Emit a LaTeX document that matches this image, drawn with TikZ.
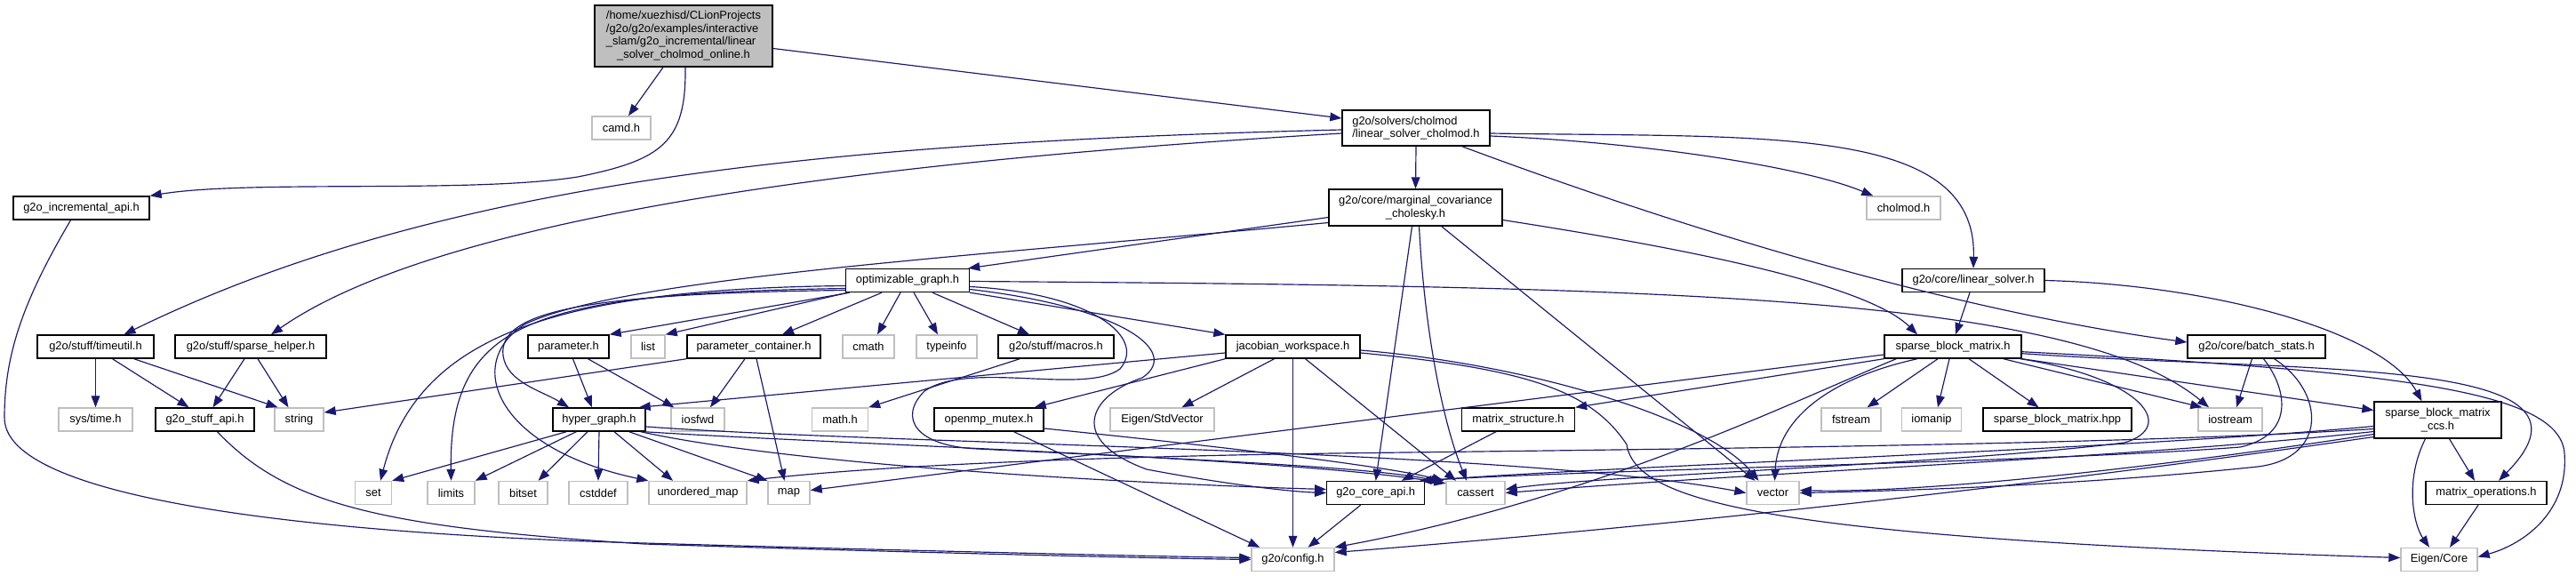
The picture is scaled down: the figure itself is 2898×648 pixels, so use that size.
\documentclass[tikz,border=0pt]{standalone}
\usepackage{fontspec}
\setmainfont{Liberation Sans}
\usetikzlibrary{arrows.meta,calc}
\definecolor{edgeblue}{HTML}{191970}
\definecolor{leafgray}{HTML}{BFBFBF}

\begin{document}
\begin{tikzpicture}[x=0.3mm,y=-0.3mm,font=\fontsize{11pt}{12.4pt}\selectfont,
  box/.style={rectangle,inner sep=0pt,minimum height=7.8mm,line width=1.2pt},
  doc/.style={box,draw=black},
  ext/.style={box,draw=leafgray},
  bw/.style={minimum width=#1*0.3mm},
  dep/.style={edgeblue,line width=1pt,-{Triangle[length=3.9mm,width=2.9mm]}}]
  \useasboundingbox (0,0) rectangle (2898,648);

  % headers of the project
  \node[doc,fill=leafgray,bw=200,minimum height=20.7mm] (main) at (769,40.5)
    {\begin{tabular}{@{}l@{}}/home/xuezhisd/CLionProjects\\/g2o/g2o/examples/interactive\\
     \_slam/g2o\_incremental/linear\\\multicolumn{1}{@{}c@{}}{\_solver\_cholmod\_online.h}\end{tabular}};
  \node[ext,bw=66] (camd) at (699,144) {camd.h};
  \node[doc,bw=166,minimum height=12mm,align=left] (lsc) at (1593,144)
    {g2o/solvers/cholmod\\/linear\_solver\_cholmod.h};
  \node[doc,bw=153] (incapi) at (91.5,234) {g2o\_incremental\_api.h};
  \node[doc,bw=195,minimum height=12.3mm,align=center] (mcc) at (1592.5,233.5)
    {g2o/core/marginal\_covariance\\\_cholesky.h};
  \node[ext,bw=83] (cholmod) at (2141.5,234) {cholmod.h};
  \node[doc,bw=139] (og) at (1021,315.5) {optimizable\_graph.h};
  \node[doc,bw=160] (ls) at (2220,315.5) {g2o/core/linear\_solver.h};
  \node[doc,bw=131] (timeutil) at (107.5,390) {g2o/stuff/timeutil.h};
  \node[doc,bw=170] (sphelp) at (282,390) {g2o/stuff/sparse\_helper.h};
  \node[doc,bw=91] (param) at (639.5,390) {parameter.h};
  \node[doc,bw=150] (pcont) at (848,390) {parameter\_container.h};
  \node[doc,bw=130] (macros) at (1188,390) {g2o/stuff/macros.h};
  \node[doc,bw=151] (jws) at (1454.5,390) {jacobian\_workspace.h};
  \node[doc,bw=154] (sbm) at (2197,390) {sparse\_block\_matrix.h};
  \node[doc,bw=155] (bstats) at (2538.5,390) {g2o/core/batch\_stats.h};
  \node[ext,bw=83] (systime) at (107.5,472) {sys/time.h};
  \node[doc,bw=111] (stuffapi) at (230.5,472) {g2o\_stuff\_api.h};
  \node[doc,bw=104] (hg) at (674,472) {hyper\_graph.h};
  \node[ext,bw=63] (mathh) at (945,472) {math.h};
  \node[doc,bw=123] (omp) at (1112.5,472) {openmp\_mutex.h};
  \node[ext,bw=117] (estd) at (1307.5,472) {Eigen/StdVector};
  \node[doc,bw=127] (mstruct) at (1708,472) {matrix\_structure.h};
  \node[doc,bw=167] (sbmhpp) at (2314.5,472) {sparse\_block\_matrix.hpp};
  \node[doc,bw=143,minimum height=12.3mm,align=center] (ccs) at (2742.5,472.5)
    {sparse\_block\_matrix\\\_ccs.h};
  \node[ext,bw=110] (umap) at (785,554.5) {unordered\_map};
  \node[doc,bw=110] (coreapi) at (1547.7,554.5) {g2o\_core\_api.h};
  \node[doc,bw=136] (matops) at (2797,554.5) {matrix\_operations.h};
  \node[ext,bw=93] (config) at (1454.5,629.5) {g2o/config.h};
  \node[ext,bw=86] (ecore) at (2744,629.5) {Eigen/Core};
  % system headers
  \foreach \nm/\x/\y/\w in {list/729/390/38, cmath/977/390/58, typeinfo/1065/390/68,
      string/336.5/472/55, iosfwd/785/472/60, fstream/2082.5/472/67, iomanip/2173/472/67,
      iostream/2509/472/72, set/420/554.5/41, limits/507.5/554.5/53, bitset/588.5/554.5/55,
      cstddef/673/554.5/66, map/887.5/554.5/47, cassert/1660/554.5/66, vector/1994.5/554.5/59}
    \node[ext,bw=\w] (\nm) at (\x,\y) {\nm};

  % main file
  \draw[dep] ($(main.south)+(-23,0)$) -- ($(camd.north)+(8,0)$);
  \draw[dep] ($(main.south)+(2,0)$) .. controls (772,160) and (745,180) .. (650,199)
    .. controls (530,218) and (280,202) .. (incapi.north east);
  \draw[dep] ($(main.east)+(0,14)$) -- ($(lsc.west)+(0,-11)$);
  % linear_solver_cholmod.h
  \draw[dep] (lsc.south) -- (mcc.north);
  \draw[dep] ($(lsc.east)+(0,9)$) .. controls (1850,160) and (2030,188) .. ($(cholmod.north west)+(8,0)$);
  \draw[dep] ($(lsc.east)+(0,6)$) .. controls (1990,155) and (2224,140) .. (ls.north);
  \draw[dep] ($(lsc.west)+(0,2)$) .. controls (950,160) and (500,200) .. ($(timeutil.north)+(32,0)$);
  \draw[dep] ($(lsc.west)+(0,6)$) .. controls (1000,180) and (500,240) .. ($(sphelp.north)+(23,0)$);
  \draw[dep] ($(lsc.south east)+(-32,0)$) .. controls (1900,260) and (2200,350) .. ($(bstats.west)+(0,-5)$);
  % api headers
  \draw[dep] ($(incapi.south)+(-12,0)$) .. controls (25,340) and (5,400) .. (5,470)
    .. controls (5,580) and (500,605) .. (725,611) .. controls (1000,619) and (1300,626) .. ($(config.west)+(0,-2)$);
  \draw[dep] ($(stuffapi.south)+(14,0)$) .. controls (320,565) and (420,593) .. (725,612)
    .. controls (1000,621) and (1300,628) .. (config.west);
  % stuff
  \draw[dep] (timeutil.south) -- (systime.north);
  \draw[dep] ($(timeutil.south)+(19,0)$) -- ($(stuffapi.north)+(-18,0)$);
  \draw[dep] ($(timeutil.south east)+(-23,0)$) -- ($(string.north)+(-24,0)$);
  \draw[dep] ($(sphelp.south)+(-7,0)$) -- ($(stuffapi.north)+(9,0)$);
  \draw[dep] ($(sphelp.south)+(8,0)$) -- ($(string.north)+(-12,0)$);
  % marginal_covariance_cholesky.h
  \draw[dep] ($(mcc.west)+(0,11)$) -- ($(og.north east)+(-2,0)$);
  \draw[dep] ($(mcc.west)+(0,17)$) .. controls (1100,288) and (700,312) .. (590,365)
    .. controls (520,410) and (560,505) .. (umap.north west);
  \draw[dep] ($(mcc.east)+(0,14)$) .. controls (1900,280) and (2100,320) .. ($(sbm.north)+(-40,0)$);
  \draw[dep] ($(mcc.south)+(-4,0)$) -- (coreapi.north);
  \draw[dep] ($(mcc.south)+(4,0)$) .. controls (1603,380) and (1625,480) .. ($(cassert.north)+(-10,0)$);
  \draw[dep] ($(mcc.south east)+(-69,0)$) -- ($(vector.north)+(-20,0)$);
  % optimizable_graph.h
  \draw[dep] ($(og.south west)+(3,0)$) -- (list.north east);
  \draw[dep] ($(og.south west)+(5,0)$) -- (param.north east);
  \draw[dep] ($(og.south)+(-29,0)$) -- ($(pcont.north)+(32,0)$);
  \draw[dep] ($(og.south)+(-8,0)$) -- ($(cmath.north)+(10,0)$);
  \draw[dep] ($(og.south)+(7,0)$) -- ($(typeinfo.north)+(-10,0)$);
  \draw[dep] ($(og.south)+(28,0)$) -- ($(macros.north)+(-30,0)$);
  \draw[dep] (og.south east) -- (jws.north west);
  \draw[dep] ($(og.east)+(0,1)$) .. controls (1850,322) and (2330,330) .. ($(iostream.north)+(-24,0)$);
  \draw[dep] ($(og.west)+(0,6)$) .. controls (620,325) and (470,380) .. ($(set.north)+(8,0)$);
  \draw[dep] ($(og.west)+(0,9)$) .. controls (600,330) and (505,360) .. (limits.north);
  \draw[dep] ($(og.west)+(0,11)$) .. controls (660,330) and (560,350) .. (566,400)
    .. controls (570,430) and (610,440) .. ($(hg.north)+(-34,0)$);
  \draw[dep] ($(og.east)+(0,7)$) .. controls (1230,330) and (1290,380) .. (1260,415)
    .. controls (1220,445) and (1090,405) .. (1040,440) .. controls (1010,470) and (1030,502) .. (1100,505)
    .. controls (1300,515) and (1550,525) .. ($(cassert.north west)+(-4,2)$);
  \draw[dep] ($(og.east)+(0,10)$) .. controls (1260,345) and (1330,395) .. (1285,425)
    .. controls (1225,445) and (1200,495) .. (1290,528) .. controls (1380,545) and (1450,553) .. (coreapi.west);
  % hyper_graph.h
  \draw[dep] ($(hg.south west)+(16,0)$) -- (set.north east);
  \draw[dep] ($(hg.south west)+(27,0)$) -- (limits.north east);
  \draw[dep] ($(hg.south)+(-13,0)$) -- ($(bitset.north)+(17,0)$);
  \draw[dep] (hg.south) -- (cstddef.north);
  \draw[dep] ($(hg.south)+(17,0)$) -- ($(umap.north)+(-28,0)$);
  \draw[dep] ($(hg.south east)+(-19,0)$) -- (map.north west);
  \draw[dep] ($(hg.south east)+(-6,0)$) .. controls (900,525) and (1300,545) .. ($(coreapi.west)+(0,-4)$);
  \draw[dep] ($(hg.south east)+(-2,0)$) .. controls (950,500) and (1450,515) .. ($(cassert.north west)+(0,3)$);
  \draw[dep] ($(hg.east)+(0,8)$) .. controls (1000,500) and (1700,505) .. (vector.west);
  % parameter.h, parameter_container.h, macros.h
  \draw[dep] ($(param.south)+(5,0)$) -- ($(hg.north)+(-8,0)$);
  \draw[dep] ($(param.south)+(22,0)$) -- ($(iosfwd.north west)+(4,0)$);
  \draw[dep] ($(pcont.south)+(-10,0)$) -- ($(iosfwd.north)+(14,0)$);
  \draw[dep] ($(pcont.south)+(3,0)$) -- ($(map.north)+(-5,0)$);
  \draw[dep] (pcont.south west) -- ($(string.east)+(0,-8)$);
  \draw[dep] ($(macros.south west)+(25,0)$) -- (mathh.north east);
  % jacobian_workspace.h
  \draw[dep] ($(jws.south)+(-21,0)$) -- ($(estd.north)+(22,0)$);
  \draw[dep] ($(jws.west)+(0,7)$) -- ($(hg.north east)+(-8,0)$);
  \draw[dep] (jws.south west) -- ($(omp.north east)+(-11,0)$);
  \draw[dep] (jws.south) -- (config.north);
  \draw[dep] ($(jws.south)+(14,0)$) -- ($(cassert.north)+(-22,0)$);
  \draw[dep] ($(jws.east)+(0,4)$) .. controls (1720,410) and (1920,470) .. ($(vector.north)+(-16,0)$);
  \draw[dep] ($(jws.east)+(0,7)$) .. controls (1720,415) and (1790,440) .. (1830,500)
    .. controls (1840,565) and (1990,605) .. ($(ecore.west)+(0,-2)$);
  % openmp_mutex.h, g2o_core_api.h, matrix_structure.h
  \draw[dep] ($(omp.south)+(28,0)$) -- ($(config.north west)+(10,0)$);
  \draw[dep] ($(omp.east)+(0,10)$) .. controls (1400,505) and (1560,525) .. ($(cassert.north west)+(-2,0)$);
  \draw[dep] ($(coreapi.south)+(-17,0)$) -- ($(config.north)+(17,0)$);
  \draw[dep] ($(mstruct.south)+(-25,0)$) -- ($(coreapi.north)+(29,0)$);
  % linear_solver.h
  \draw[dep] ($(ls.south)+(-4,0)$) -- ($(sbm.north)+(3,0)$);
  \draw[dep] (ls.east) .. controls (2480,320) and (2680,370) .. ($(ccs.north)+(-18,0)$);
  % sparse_block_matrix.h
  \draw[dep] ($(sbm.south)+(-17,0)$) -- ($(fstream.north)+(18,0)$);
  \draw[dep] ($(sbm.south)+(-4,0)$) -- ($(iomanip.north)+(7,0)$);
  \draw[dep] ($(sbm.south)+(18,0)$) -- ($(sbmhpp.north)+(-21,0)$);
  \draw[dep] ($(sbm.south east)+(-21,0)$) -- ($(iostream.north west)+(5,0)$);
  \draw[dep] (sbm.south east) -- ($(ccs.west)+(0,-11)$);
  \draw[dep] ($(sbm.south east)+(0,-6)$) .. controls (2600,420) and (2950,400) .. ($(matops.north)+(14,0)$);
  \draw[dep] ($(sbm.south east)+(0,-8)$) .. controls (2700,418) and (2880,440) .. (2885,510)
    .. controls (2890,575) and (2840,612) .. ($(ecore.east)+(0,-3)$);
  \draw[dep] (sbm.south west) -- (mstruct.north east);
  \draw[dep] ($(sbm.west)+(0,9)$) -- ($(map.east)+(0,-3)$);
  \draw[dep] ($(sbm.south west)+(14,0)$) .. controls (2020,450) and (1800,560) .. (config.north east);
  \draw[dep] ($(sbm.south)+(-40,0)$) .. controls (2060,425) and (2000,470) .. ($(vector.north)+(2,0)$);
  \draw[dep] ($(sbm.south east)+(-2,0)$) .. controls (2410,425) and (2450,480) .. (2390,498)
    .. controls (2200,522) and (1800,535) .. ($(cassert.east)+(0,-4)$);
  % sparse_block_matrix_ccs.h, matrix_operations.h
  \draw[dep] ($(ccs.west)+(0,10)$) .. controls (2400,500) and (1900,505) .. (1500,510)
    .. controls (1150,515) and (950,528) .. (umap.north east);
  \draw[dep] ($(ccs.west)+(0,7)$) .. controls (2400,505) and (1800,525) .. (coreapi.north east);
  \draw[dep] ($(ccs.west)+(0,13)$) .. controls (2400,515) and (2000,530) .. (cassert.east);
  \draw[dep] ($(ccs.west)+(0,16)$) .. controls (2400,530) and (2150,555) .. ($(vector.east)+(0,-3)$);
  \draw[dep] ($(ccs.west)+(0,19)$) .. controls (2300,545) and (1900,590) .. ($(config.east)+(0,-8)$);
  \draw[dep] ($(ccs.south)+(-14,0)$) .. controls (2705,540) and (2715,590) .. ($(ecore.north)+(-11,0)$);
  \draw[dep] ($(ccs.south)+(13,0)$) -- ($(matops.north)+(-13,0)$);
  \draw[dep] ($(matops.south)+(-9,0)$) -- ($(ecore.north)+(12,0)$);
  % batch_stats.h
  \draw[dep] ($(bstats.south)+(-5,0)$) -- ($(iostream.north)+(7,0)$);
  \draw[dep] ($(bstats.south)+(8,0)$) .. controls (2575,440) and (2580,490) .. (2520,503)
    .. controls (2300,520) and (1800,528) .. ($(coreapi.north east)+(-6,0)$);
  \draw[dep] ($(bstats.south)+(20,0)$) .. controls (2615,440) and (2620,515) .. (2540,525)
    .. controls (2350,545) and (2150,552) .. (vector.east);
\end{tikzpicture}
\end{document}
